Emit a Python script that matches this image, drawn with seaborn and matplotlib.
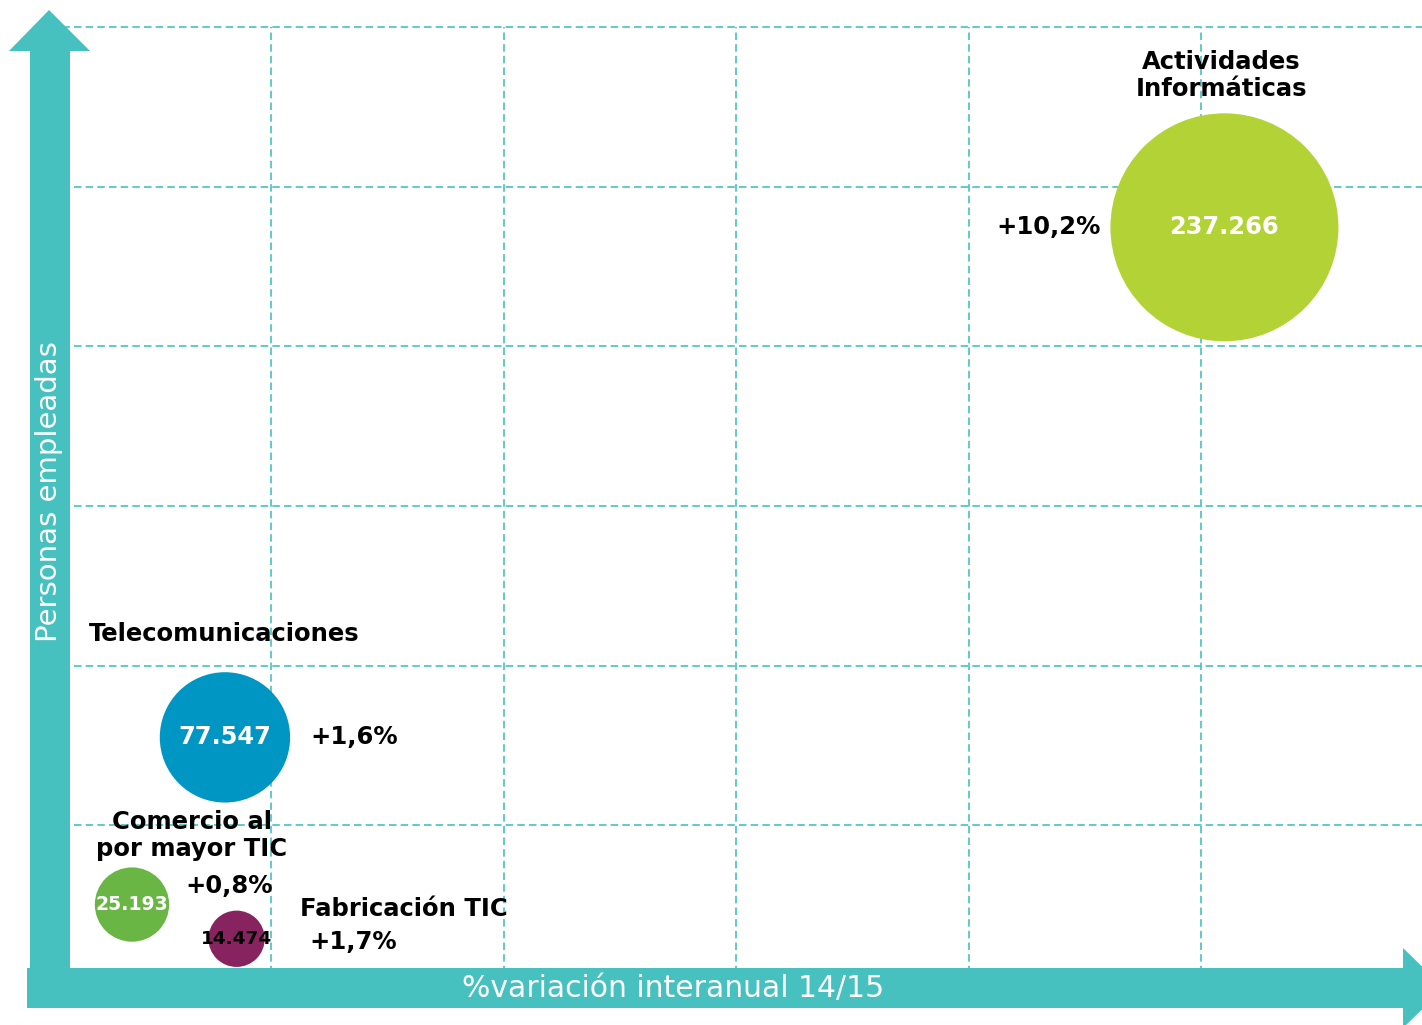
import pandas as pd
import matplotlib.pyplot as plt
import seaborn as sns
from matplotlib.patches import Polygon

# Data
sectores = ["Actividades\nInformáticas", "Telecomunicaciones",
            "Comercio al\npor mayor TIC", "Fabricación TIC"]
variacion = [10.2, 1.6, 0.8, 1.7]          # % variación interanual 14/15
empleados = [237266, 77547, 25193, 14474]  # personas empleadas
colores = ["#B2D235", "#0096C4", "#6AB645", "#87235F"]

df = pd.DataFrame({"sector": sectores, "variacion": variacion, "empleados": empleados})
df["valor_txt"] = [f"{v:,}".replace(",", ".") for v in empleados]
df["var_txt"] = [f"+{p:.1f}%".replace(".", ",") for p in variacion]

sns.set_style("white")
plt.rcParams["font.family"] = ["DejaVu Sans"]
plt.rcParams["text.color"] = "black"

teal = "#46C1C0"
W, H, DPI = 1422, 1025, 100
fig = plt.figure(figsize=(W / DPI, H / DPI), dpi=DPI)

# main plotting area (pixel box 39..1422 x 27..985)
ax = fig.add_axes([39 / W, (H - 985) / H, (W - 39) / W, (985 - 27) / H])

# bubble area proportional to employment
s_max = (2 * 114 * 72 / DPI) ** 2
sns.scatterplot(data=df, x="variacion", y="empleados", hue="sector", palette=colores,
                size="empleados", sizes=(0, s_max), size_norm=(0, max(empleados)),
                linewidth=0, alpha=1, legend=False, ax=ax, zorder=3)

ax.set_xlim(0, 11.9)
ax.set_ylim(0, 300000)
ax.set_xticks([2, 4, 6, 8, 10])
ax.set_yticks([50000, 100000, 150000, 200000, 250000, 300000])
ax.grid(True, color=teal, linestyle=(0, (4.5, 2.5)), linewidth=1.2)
for gl in ax.get_ygridlines() + ax.get_xgridlines():
    gl.set_clip_on(False)
ax.tick_params(left=False, bottom=False, labelleft=False, labelbottom=False)
for sp in ax.spines.values():
    sp.set_visible(False)
ax.set_xlabel("")
ax.set_ylabel("")

# label offsets (pixels from bubble centre)
nombre_off = [(-3, 152, "center"), (-136, 103, "left"), (60, 69, "center"), (63, 30, "left")]
var_off = [(-124, 0, "right"), (85, 0, "left"), (53, 19, "left"), (73, -3, "left")]
valor_color = ["white", "white", "white", "black"]
valor_size = [17.4, 17.4, 13.6, 13.3]

for i, row in df.iterrows():
    xy = (row["variacion"], row["empleados"])
    dx, dy, ha = nombre_off[i]
    ax.annotate(row["sector"], xy, xytext=(dx, dy), textcoords="offset pixels",
                ha=ha, va="center", fontsize=17.5, fontweight="bold", linespacing=1.15,
                color="black", zorder=5)
    dx, dy, ha = var_off[i]
    ax.annotate(row["var_txt"], xy, xytext=(dx, dy), textcoords="offset pixels",
                ha=ha, va="center", fontsize=17.5, fontweight="bold", color="black", zorder=5)
    ax.annotate(row["valor_txt"], xy, ha="center", va="center",
                fontsize=valor_size[i], fontweight="bold", color=valor_color[i], zorder=5)

# arrow axes overlay in pixel coordinates
ov = fig.add_axes([0, 0, 1, 1], facecolor="none")
ov.set_xlim(0, W)
ov.set_ylim(H, 0)
ov.axis("off")
ov.add_patch(Polygon([(30, 1008), (30, 51), (9, 51), (49, 10), (90, 51), (70, 51), (70, 1008)],
                     closed=True, color=teal, lw=0))
ov.add_patch(Polygon([(27, 968), (1403, 968), (1403, 948), (1444, 988), (1403, 1028),
                      (1403, 1008), (27, 1008)], closed=True, color=teal, lw=0))
ov.text(49, 492, "Personas empleadas", rotation=90, ha="center", va="center",
        color="white", fontsize=21)
ov.text(673, 988, "%variación interanual 14/15", ha="center", va="center",
        color="white", fontsize=21.5)

fig.savefig("out.png", dpi=DPI)
